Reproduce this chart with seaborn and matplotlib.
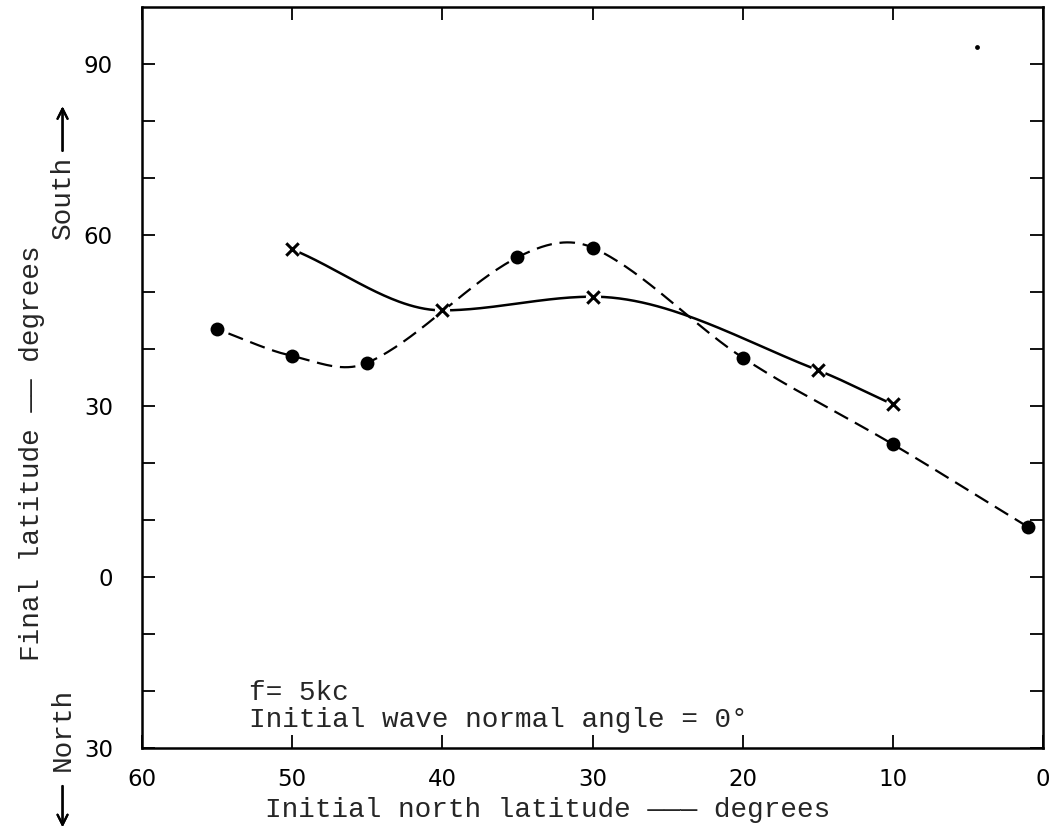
import numpy as np
import matplotlib
matplotlib.use("Agg")
from matplotlib import pyplot as plt
import seaborn as sns

# points (initial north latitude -> final latitude, south positive)
dot_lat = [55, 50, 45, 35, 30, 20, 10, 1]
dot_final = [43.5, 38.8, 37.6, 56.1, 57.8, 38.5, 23.3, 8.8]
cross_lat = [50, 40, 30, 15, 10]
cross_final = [57.5, 46.8, 49.2, 36.3, 30.3]
speck_lat = [4.4]
speck_final = [93.0]

x_ticks = [60, 50, 40, 30, 20, 10, 0]
y_ticks = list(range(-30, 100, 10))
y_labels = {90: "90", 60: "60", 30: "30", 0: "0", -30: "30"}

MONO = ["Liberation Mono", "DejaVu Sans Mono", "DejaVu Sans"]


def hermite(xs, ys, monotone=False, n=60):
    # smooth cubic through the hand-drawn points (x as the free variable)
    x = np.asarray(xs, float)
    y = np.asarray(ys, float)
    o = np.argsort(x)
    x, y = x[o], y[o]
    h = np.diff(x)
    d = np.diff(y) / h
    m = np.empty_like(y)
    m[0], m[-1] = d[0], d[-1]
    for i in range(1, len(x) - 1):
        if monotone:
            if d[i - 1] * d[i] <= 0:
                m[i] = 0.0
            else:
                w1 = 2 * h[i] + h[i - 1]
                w2 = h[i] + 2 * h[i - 1]
                m[i] = (w1 + w2) / (w1 / d[i - 1] + w2 / d[i])
        else:
            m[i] = (y[i + 1] - y[i - 1]) / (x[i + 1] - x[i - 1])
    px, py = [], []
    for i in range(len(x) - 1):
        t = np.linspace(0, 1, n)
        h00 = 2 * t**3 - 3 * t**2 + 1
        h10 = t**3 - 2 * t**2 + t
        h01 = -2 * t**3 + 3 * t**2
        h11 = t**3 - t**2
        px.append(x[i] + t * h[i])
        py.append(h00 * y[i] + h10 * h[i] * m[i] + h01 * y[i + 1] + h11 * h[i] * m[i + 1])
    return np.concatenate(px), np.concatenate(py)


sns.set_style("ticks")
plt.rcParams["font.family"] = MONO

fig = plt.figure(figsize=(10.6, 8.35), dpi=100)
ax = fig.add_axes([0.134, 0.104, 0.850, 0.8875])

sx, sy = hermite(cross_lat, cross_final, monotone=True)
ax.plot(sx, sy, color="black", lw=1.8, zorder=2)
dx, dy = hermite(dot_lat, dot_final)
ax.plot(dx, dy, color="black", lw=1.6, dashes=(7, 3.5), zorder=2)

sns.scatterplot(x=cross_lat, y=cross_final, marker="o", s=120, color="white",
                linewidth=0, ax=ax, zorder=3)
sns.scatterplot(x=cross_lat, y=cross_final, marker="x", s=80, color="black",
                linewidth=2.2, ax=ax, zorder=4)
sns.scatterplot(x=dot_lat, y=dot_final, marker="o", s=100, color="black",
                linewidth=0, ax=ax, zorder=4)
sns.scatterplot(x=speck_lat, y=speck_final, marker="o", s=12, color="black",
                linewidth=0, ax=ax, zorder=4)

ax.set_xlim(60, 0)
ax.set_ylim(-30, 100)
ax.set_xticks(x_ticks)
ax.set_xticklabels([str(v) for v in x_ticks])
ax.set_yticks(y_ticks)
ax.set_yticklabels([y_labels.get(v, "") for v in y_ticks])
ax.tick_params(direction="in", length=9.5, width=1.3, top=True, right=True,
               labelsize=16.5, colors="black")
ax.tick_params(axis="x", pad=14)
ax.tick_params(axis="y", pad=21)
for lab in ax.get_xticklabels() + ax.get_yticklabels():
    lab.set_family("DejaVu Sans")
for sp in ax.spines.values():
    sp.set_color("black")
    sp.set_linewidth(1.8)
ax.set_xlabel("")
ax.set_ylabel("")

ax.text(52.9, -20.3, "f= 5kc", fontsize=20, va="center", family=MONO)
ax.text(52.9, -25.0, "Initial wave normal angle = 0°", fontsize=20, va="center", family=MONO)

fig.text(0.517, 0.030, "Initial north latitude ——— degrees", fontsize=20,
         ha="center", va="center", family=MONO)
fig.text(0.030, 0.457, "Final latitude —— degrees", fontsize=20, rotation=90,
         ha="center", va="center", family=MONO)
fig.text(0.059, 0.764, "South", fontsize=20, rotation=90,
         ha="center", va="center", family=MONO)
fig.text(0.059, 0.126, "North", fontsize=20, rotation=90,
         ha="center", va="center", family=MONO)
arrow = dict(arrowstyle="->", color="black", lw=1.6, mutation_scale=18)
fig.add_artist(plt.annotate("", xy=(0.059, 0.876), xytext=(0.059, 0.816),
                            xycoords="figure fraction", arrowprops=arrow))
fig.add_artist(plt.annotate("", xy=(0.059, 0.006), xytext=(0.059, 0.062),
                            xycoords="figure fraction", arrowprops=arrow))

fig.savefig("out.png", dpi=100)
